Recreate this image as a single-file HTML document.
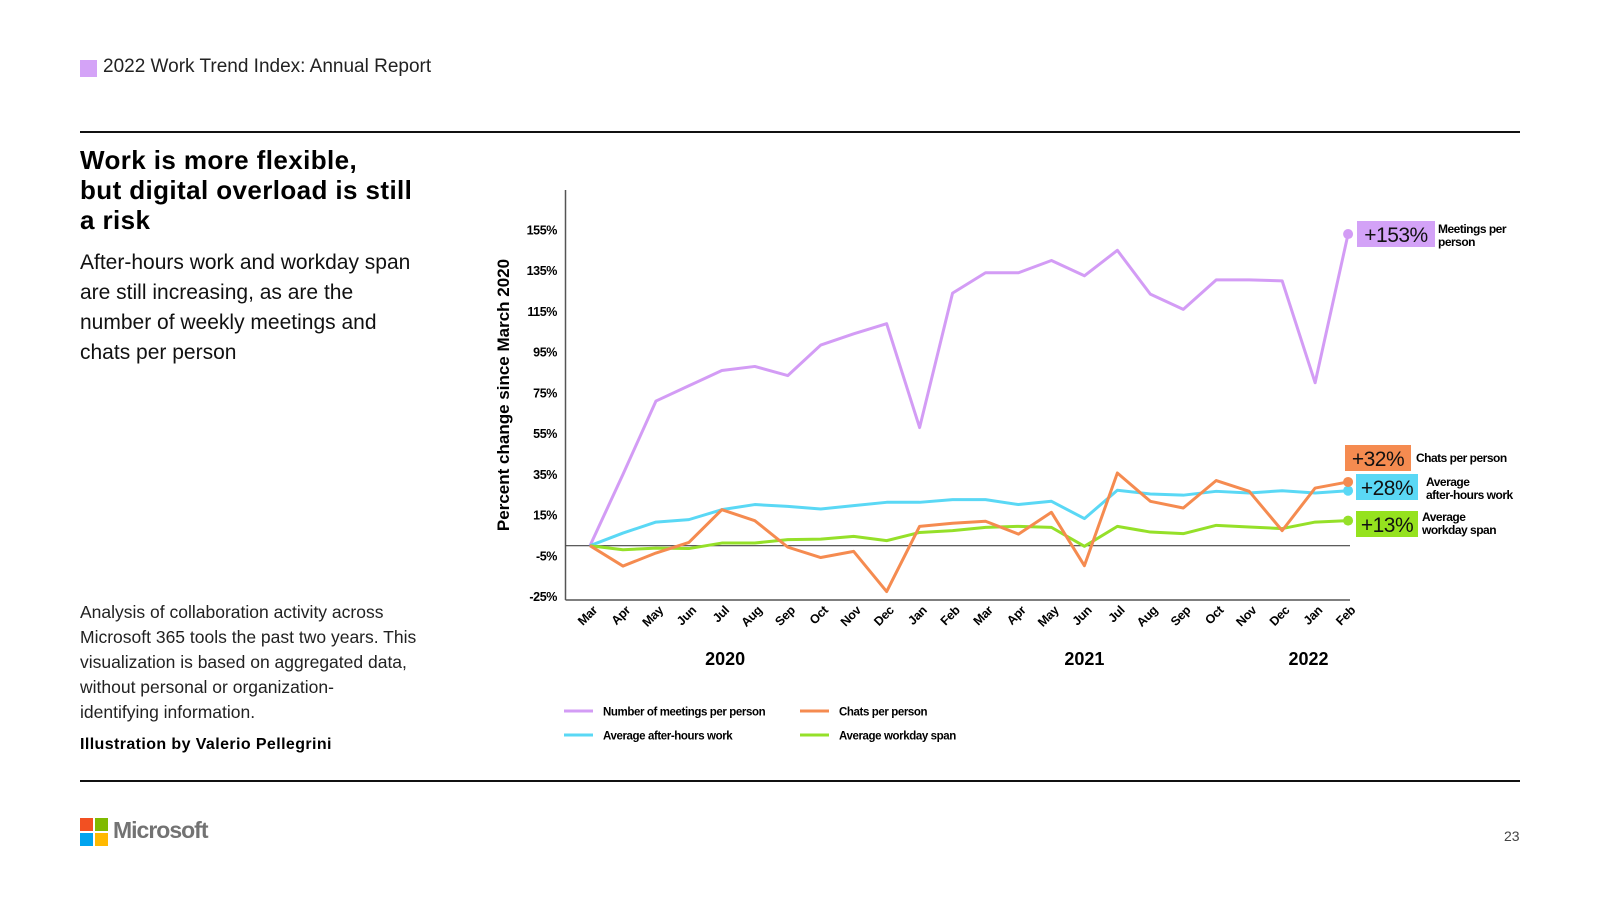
<!DOCTYPE html>
<html><head><meta charset="utf-8">
<style>
body{margin:0;background:#fff;}
#page{position:relative;width:1600px;height:900px;overflow:hidden;font-family:"Liberation Sans",sans-serif;color:#000;}
.abs{position:absolute;white-space:nowrap;}
.rule{position:absolute;left:80px;width:1440px;height:1.5px;background:#111;}
</style></head><body>
<div id="page">
  <div class="abs" style="left:80px;top:60px;width:17px;height:17px;background:#d4a3f7;"></div>
  <div class="abs" style="left:103px;top:56px;font-size:19px;color:#222;">2022 Work Trend Index: Annual Report</div>
  <div class="rule" style="top:131px;"></div>
  <div class="abs" style="left:80px;top:145px;font-size:26px;font-weight:bold;line-height:30px;letter-spacing:0.4px;">Work is more flexible,<br>but digital overload is still<br>a risk</div>
  <div class="abs" style="left:80px;top:248px;font-size:21px;line-height:30px;color:#111;">After-hours work and workday span<br>are still increasing, as are the<br>number of weekly meetings and<br>chats per person</div>
  <div class="abs" style="left:80px;top:600px;font-size:17.5px;line-height:25px;color:#222;">Analysis of collaboration activity across<br>Microsoft 365 tools the past two years. This<br>visualization is based on aggregated data,<br>without personal or organization-<br>identifying information.</div>
  <div class="abs" style="left:80px;top:736px;font-size:16px;font-weight:bold;letter-spacing:0.4px;">Illustration by Valerio Pellegrini</div>
  <div class="rule" style="top:780px;"></div>
  <div class="abs" style="left:80px;top:818px;width:28px;height:28px;">
    <div style="position:absolute;left:0;top:0;width:13px;height:13px;background:#f25022"></div>
    <div style="position:absolute;left:15px;top:0;width:13px;height:13px;background:#7fba00"></div>
    <div style="position:absolute;left:0;top:15px;width:13px;height:13px;background:#00a4ef"></div>
    <div style="position:absolute;left:15px;top:15px;width:13px;height:13px;background:#ffb900"></div>
  </div>
  <div class="abs" style="left:113px;top:817px;font-size:23px;font-weight:bold;color:#737373;letter-spacing:-1px;">Microsoft</div>
  <div class="abs" style="left:1504px;top:828px;font-size:14px;color:#444;">23</div>
  <svg id="chart" class="abs" style="left:0;top:0" width="1600" height="900"></svg>
</div>
<script>
const months = ["Mar","Apr","May","Jun","Jul","Aug","Sep","Oct","Nov","Dec","Jan","Feb","Mar","Apr","May","Jun","Jul","Aug","Sep","Oct","Nov","Dec","Jan","Feb"];
const yTicks = [155,135,115,95,75,55,35,15,-5,-25];
const meetings = [0,35,71,78.5,86,88,83.5,98.5,104,109,58,124,134,134,140,132.5,145,123.5,116,130.5,130.5,130,80,153];
const chats = [0,-10,-3.6,1.6,17.7,12.3,-0.7,-5.8,-2.8,-22.5,9.5,11,12,5.7,16.4,-9.8,35.7,21.8,18.5,32,26.7,7.4,28.3,31.3];
const afterHours = [0,6.2,11.6,12.8,17.7,20.2,19.3,18,19.7,21.3,21.3,22.6,22.6,20.2,21.8,13.3,27.2,25.4,24.8,26.7,25.9,27,25.9,27];
const workday = [0,-2,-1.2,-1.4,1.3,1.3,3,3.2,4.6,2.5,6.5,7.4,9,9.5,9,-0.3,9.5,6.7,5.9,10,9.2,8.4,11.6,12.3];
const years = [{label:"2020",i:4.1},{label:"2021",i:15},{label:"2022",i:21.8}];

const svg = document.getElementById('chart');
const NS = "http://www.w3.org/2000/svg";
const x0 = 590, step = 32.96, zeroY = 545.7, ppu = 2.037;
function xs(i){return x0 + i*step;}
function ys(v){return zeroY - v*ppu;}
function mk(tag, attrs){const e=document.createElementNS(NS,tag);for(const k in attrs)e.setAttribute(k,attrs[k]);svg.appendChild(e);return e;}
const cond = '"Liberation Sans Narrow","Liberation Sans",sans-serif';

let e;
e = mk('line',{x1:565.5,y1:190,x2:565.5,y2:600,stroke:'#555','stroke-width':1.5});


e = mk('line',{x1:565.5,y1:600,x2:1350,y2:600,stroke:'#555','stroke-width':1.5});


e = mk('line',{x1:565.5,y1:ys(0),x2:1350,y2:ys(0),stroke:'#444','stroke-width':1.2});



yTicks.forEach(v=>{
  const t = mk('text',{x:557,y:ys(v)+4.5,'text-anchor':'end','font-size':12.5,'font-weight':'bold','font-family':cond,'letter-spacing':'-0.4'});
  t.textContent = v+'%';
  
  
});
e = mk('text',{x:0,y:0,'text-anchor':'middle','font-size':17,'font-weight':'bold',transform:'translate(509,395) rotate(-90)'});
e.textContent = 'Percent change since March 2020';



months.forEach((m,i)=>{
  const t = mk('text',{x:0,y:0,'text-anchor':'end','font-size':12.5,'font-weight':'bold','font-family':cond,'letter-spacing':'-0.3',transform:`translate(${xs(i)+8},${611}) rotate(-45)`});
  t.textContent = m;
  
  
});
years.forEach(yr=>{
  const t = mk('text',{x:xs(yr.i),y:665,'text-anchor':'middle','font-size':18,'font-weight':'bold','font-family':cond});
  t.textContent = yr.label;
  
  
});

const series = [
  {name:'meetings-line',data:meetings,color:'#d39cf5'},
  {name:'after-hours-line',data:afterHours,color:'#5ad8f5'},
  {name:'workday-span-line',data:workday,color:'#95e029'},
  {name:'chats-line',data:chats,color:'#f58b50'}
];
series.forEach(s=>{
  const p = mk('polyline',{points:s.data.map((v,i)=>xs(i)+','+ys(v)).join(' '),fill:'none',stroke:s.color,'stroke-width':3,'stroke-linejoin':'round'});
  
  
  const last = s.data.length-1;
  const c = mk('circle',{cx:xs(last),cy:ys(s.data[last]),r:5,fill:s.color});
  
  
});

const callouts = [
  {label:'+153%',x:1357,y:221,w:78,color:'#d3a2f7',lines:['Meetings per','person'],tx:1438,ty:233},
  {label:'+32%',x:1345,y:445,w:66,color:'#f58b50',lines:['Chats per person'],tx:1416,ty:462},
  {label:'+28%',x:1356,y:474,w:62,color:'#5ad8f5',lines:['Average','after-hours work'],tx:1426,ty:486},
  {label:'+13%',x:1356,y:511,w:62,color:'#95e21e',lines:['Average','workday span'],tx:1422,ty:521}
];
callouts.forEach(c=>{
  const r = mk('rect',{x:c.x,y:c.y,width:c.w,height:26,fill:c.color});
  
  
  const t = mk('text',{x:c.x+c.w/2,y:c.y+21,'text-anchor':'middle','font-size':21,'font-family':cond,fill:'#111','letter-spacing':'-0.5'});
  t.textContent = c.label;
  
  
  c.lines.forEach((ln,k)=>{
    const tt = mk('text',{x:c.tx,y:c.ty+k*13,'font-size':12,'font-weight':'bold','font-family':cond,'letter-spacing':'-0.5'});
    tt.textContent = ln;
    
    
  });
});

const legend = [
  {label:'Number of meetings per person',color:'#d39cf5',x:564,y:711},
  {label:'Chats per person',color:'#f58b50',x:800,y:711},
  {label:'Average after-hours work',color:'#5ad8f5',x:564,y:735},
  {label:'Average workday span',color:'#95e029',x:800,y:735}
];
legend.forEach(l=>{
  const ln = mk('line',{x1:l.x,y1:l.y,x2:l.x+29,y2:l.y,stroke:l.color,'stroke-width':3});
  
  
  const t = mk('text',{x:l.x+39,y:l.y+4.5,'font-size':11.5,'font-weight':'bold','font-family':cond,'letter-spacing':'-0.4'});
  t.textContent = l.label;
  
  
});
</script>
</body></html>
